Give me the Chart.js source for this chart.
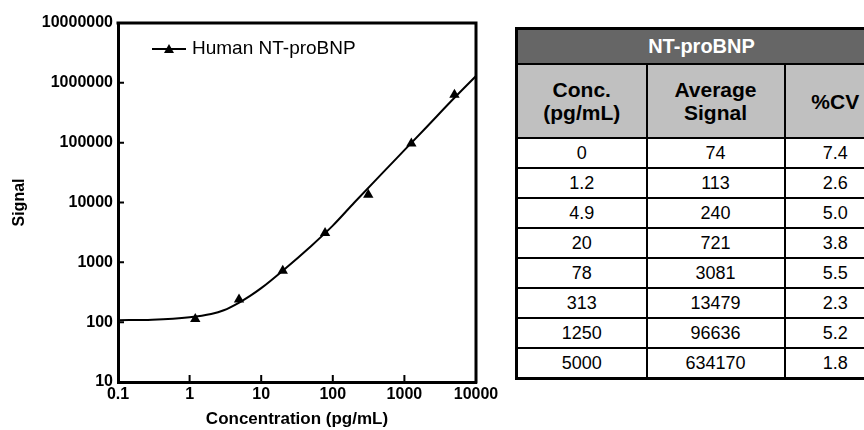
<!DOCTYPE html>
<html lang="en">
<head>
    <meta charset="UTF-8">
    <title>NT-proBNP Standard Curve</title>
    <script src="https://cdn.jsdelivr.net/npm/chart.js"></script>
    <style>
        body {
            margin: 0;
            padding: 0;
            width: 864px;
            height: 430px;
            overflow: hidden;
            background: #fff;
            font-family: "Liberation Sans", Arial, sans-serif;
            position: relative;
        }

        .chart-box {
            position: absolute;
            left: 0;
            top: 0;
            width: 510px;
            height: 430px;
        }

        #tbl {
            position: absolute;
            left: 515px;
            top: 27px;
            border-collapse: collapse;
            border: 3px solid #000;
            table-layout: fixed;
            width: 370px;
        }

        #tbl td, #tbl th {
            border: 2px solid #000;
            text-align: center;
            padding: 0;
        }

        #tbl .h1 {
            background: #666;
            color: #fff;
            font-size: 20px;
            font-weight: bold;
            height: 33px;
        }

        #tbl .h2 {
            background: #c0c0c0;
            color: #000;
            font-size: 21px;
            font-weight: bold;
            line-height: 23px;
            height: 72px;
        }

        #tbl td {
            font-size: 18px;
            height: 28px;
            color: #000;
        }
    </style>
</head>
<body>
    <div class="chart-box">
        <canvas id="curveChart"></canvas>
    </div>

    <table id="tbl">
        <colgroup>
            <col style="width:130px">
            <col style="width:138px">
            <col style="width:102px">
        </colgroup>
        <tr><th colspan="3" class="h1">NT-proBNP</th></tr>
        <tr>
            <th class="h2">Conc.<br>(pg/mL)</th>
            <th class="h2">Average<br>Signal</th>
            <th class="h2">%CV</th>
        </tr>
        <tbody id="tblBody"></tbody>
    </table>

    <script>
        // Table / measured data
        const concLabels = ["0", "1.2", "4.9", "20", "78", "313", "1250", "5000"];
        const concValues = [0, 1.2, 4.9, 20, 78, 313, 1250, 5000];
        const avgSignal = [74, 113, 240, 721, 3081, 13479, 96636, 634170];
        const cvValues = ["7.4", "2.6", "5.0", "3.8", "5.5", "2.3", "5.2", "1.8"];

        // Fitted curve
        const curveX = [0.1, 0.3, 1, 2, 3, 5, 7, 10, 20, 50, 100, 200, 500, 1000, 2000, 5000, 10000];
        const curveY = [108, 110, 121, 137, 158, 215, 275, 370, 725, 1880, 4100, 10000, 31600, 75000, 178000, 562000, 1300000];

        // Axis ticks
        const xTicks = [0.1, 1, 10, 100, 1000, 10000];
        const yTicks = [10, 100, 1000, 10000, 100000, 1000000, 10000000];

        // Fill the table
        const body = document.getElementById("tblBody");
        concLabels.forEach((c, i) => {
            const tr = document.createElement("tr");
            [c, String(avgSignal[i]), cvValues[i]].forEach(v => {
                const td = document.createElement("td");
                td.textContent = v;
                tr.appendChild(td);
            });
            body.appendChild(tr);
        });

        const FONT = "'Liberation Sans', Arial, sans-serif";

        // points with concentration 0 can't go on a log axis
        const points = [];
        concValues.forEach((c, i) => {
            if (c > 0) points.push({ x: c, y: avgSignal[i] });
        });
        const curve = curveX.map((x, i) => ({ x: x, y: curveY[i] }));

        // top/right frame plus inward tick marks
        const framePlugin = {
            id: "frame",
            afterDraw(chart) {
                const { ctx, chartArea: a, scales } = chart;
                ctx.save();
                ctx.strokeStyle = "#000";
                ctx.lineWidth = 3;
                ctx.beginPath();
                ctx.moveTo(a.left - 1.5, a.top);
                ctx.lineTo(a.right, a.top);
                ctx.lineTo(a.right, a.bottom + 1.5);
                ctx.stroke();

                ctx.lineWidth = 2;
                ctx.beginPath();
                scales.x.ticks.forEach(t => {
                    const px = scales.x.getPixelForValue(t.value);
                    ctx.moveTo(px, a.bottom);
                    ctx.lineTo(px, a.bottom - 7);
                });
                scales.y.ticks.forEach(t => {
                    const py = scales.y.getPixelForValue(t.value);
                    ctx.moveTo(a.left, py);
                    ctx.lineTo(a.left + 6, py);
                });
                ctx.stroke();
                ctx.restore();
            }
        };

        // legend drawn inside the plot, top left
        const legendPlugin = {
            id: "innerLegend",
            afterDraw(chart) {
                const ctx = chart.ctx;
                const y = 49;
                ctx.save();
                ctx.strokeStyle = "#000";
                ctx.lineWidth = 2;
                ctx.beginPath();
                ctx.moveTo(152, y);
                ctx.lineTo(186, y);
                ctx.stroke();
                ctx.fillStyle = "#000";
                ctx.beginPath();
                ctx.moveTo(169, y - 5);
                ctx.lineTo(174, y + 4);
                ctx.lineTo(164, y + 4);
                ctx.closePath();
                ctx.fill();
                ctx.font = "19px " + FONT;
                ctx.textBaseline = "middle";
                ctx.fillText(chart.data.datasets[1].label, 192, y);
                ctx.restore();
            }
        };

        new Chart(document.getElementById("curveChart"), {
            type: "scatter",
            data: {
                datasets: [{
                    label: "fit",
                    data: curve,
                    showLine: true,
                    borderColor: "#000",
                    borderWidth: 2,
                    pointRadius: 0,
                    cubicInterpolationMode: "monotone"
                }, {
                    label: "Human NT-proBNP",
                    data: points,
                    showLine: false,
                    pointStyle: "triangle",
                    pointRadius: 6,
                    backgroundColor: "#000",
                    borderColor: "#000",
                    borderWidth: 0
                }]
            },
            options: {
                responsive: true,
                maintainAspectRatio: false,
                animation: false,
                layout: { padding: { top: 23, right: 34, left: 0, bottom: 0 } },
                plugins: {
                    legend: { display: false },
                    tooltip: { enabled: false }
                },
                scales: {
                    x: {
                        type: "logarithmic",
                        min: 0.1,
                        max: 10000,
                        afterBuildTicks: s => { s.ticks = xTicks.map(v => ({ value: v })); },
                        afterFit: s => { s.height = 48; },
                        grid: { display: false, drawTicks: false },
                        border: { display: true, color: "#000", width: 3 },
                        ticks: {
                            autoSkip: false,
                            maxRotation: 0,
                            padding: 3,
                            color: "#000",
                            font: { family: FONT, size: 16, weight: "bold" },
                            callback: v => String(v)
                        },
                        title: {
                            display: true,
                            text: "Concentration (pg/mL)",
                            color: "#000",
                            padding: 0,
                            font: { family: FONT, size: 17, weight: "bold" }
                        }
                    },
                    y: {
                        type: "logarithmic",
                        min: 10,
                        max: 10000000,
                        afterBuildTicks: s => { s.ticks = yTicks.map(v => ({ value: v })); },
                        afterFit: s => { s.width = 118; },
                        grid: { display: false, drawTicks: false },
                        border: { display: true, color: "#000", width: 3 },
                        ticks: {
                            autoSkip: false,
                            padding: 5,
                            color: "#000",
                            font: { family: FONT, size: 16, weight: "bold" },
                            callback: v => String(v)
                        },
                        title: {
                            display: true,
                            text: "Signal",
                            color: "#000",
                            padding: { top: 10, bottom: 0 },
                            font: { family: FONT, size: 16, weight: "bold" }
                        }
                    }
                }
            },
            plugins: [framePlugin, legendPlugin]
        });
    </script>
</body>
</html>
